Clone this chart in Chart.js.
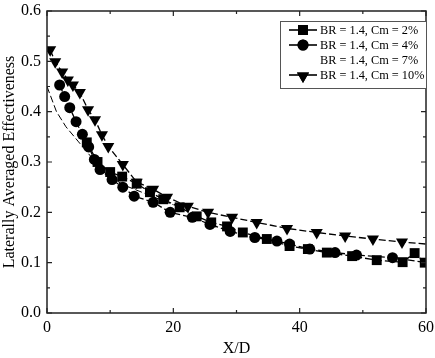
<!DOCTYPE html>
<html>
<head>
<meta charset="utf-8">
<script src="https://cdn.jsdelivr.net/npm/chart.js@4"></script>
<style>
  html, body { margin: 0; padding: 0; background: #fff; }
  #wrap { width: 435px; height: 358px; }
</style>
</head>
<body>
<div id="wrap"><canvas id="chart"></canvas></div>
<script>
// data
var labels = ["BR = 1.4, Cm = 2%", "BR = 1.4, Cm = 4%", "BR = 1.4, Cm = 7%", "BR = 1.4, Cm = 10%"];

var sqX = [6.3, 8, 10, 11.9, 14.2, 16.3, 18.4, 21, 23.7, 26, 28.5, 31, 34.8, 38.4, 41.3, 44.3, 48.3, 52.2, 56.3, 58.2, 59.8];
var sqY = [0.339, 0.300, 0.280, 0.271, 0.257, 0.240, 0.226, 0.210, 0.192, 0.180, 0.172, 0.160, 0.147, 0.133, 0.127, 0.120, 0.113, 0.105, 0.101, 0.119, 0.100];

var ciX = [2, 2.8, 3.6, 4.6, 5.6, 6.6, 7.5, 8.4, 10.3, 12, 13.8, 16.8, 19.5, 23, 25.8, 29, 32.9, 36.4, 38.4, 41.6, 45.6, 49, 54.7, 60];
var ciY = [0.453, 0.430, 0.408, 0.380, 0.355, 0.330, 0.305, 0.285, 0.265, 0.250, 0.232, 0.220, 0.200, 0.190, 0.176, 0.162, 0.150, 0.143, 0.137, 0.127, 0.120, 0.115, 0.110, 0.100];

var c7X = [0, 1.5, 3, 5, 7, 9, 12, 16, 20];
var c7Y = [0.450, 0.400, 0.370, 0.340, 0.310, 0.280, 0.255, 0.235, 0.215];

var trX = [0.5, 1.3, 2.4, 3.3, 4.1, 5.2, 6.5, 7.6, 8.7, 9.7, 12, 14.2, 16.8, 19, 22.3, 25.5, 29.3, 33.2, 38, 42.7, 47.2, 51.6, 56.2, 60];
var trY = [0.523, 0.499, 0.479, 0.463, 0.453, 0.438, 0.404, 0.384, 0.354, 0.331, 0.295, 0.260, 0.246, 0.230, 0.212, 0.200, 0.190, 0.180, 0.168, 0.160, 0.153, 0.147, 0.141, 0.137];

function pts(xs, ys) {
  return xs.map(function (x, i) { return { x: x, y: ys[i] }; });
}

// last point of some series only carries the line to the frame
function rad(r) {
  return function (ctx) { return ctx.raw && ctx.raw.x === 60 ? 0 : r; };
}

var serif = "'Liberation Serif', 'Times New Roman', serif";

function markerRadius(style) {
  return style === 'circle' ? 5.5 : 7;
}

// inward ticks, box frame and the framed legend
var frame = {
  id: 'frame',
  afterDraw: function (chart) {
    var ctx = chart.ctx, a = chart.chartArea;
    var xs = chart.scales.x, ys = chart.scales.y;
    ctx.save();
    ctx.strokeStyle = '#222';
    ctx.lineWidth = 1.5;
    ctx.strokeRect(a.left, a.top, a.right - a.left, a.bottom - a.top);
    ctx.lineWidth = 1.2;
    ctx.beginPath();
    for (var v = 0; v <= 60; v += 10) {
      var px = xs.getPixelForValue(v), len = v % 20 === 0 ? 5 : 3;
      ctx.moveTo(px, a.bottom); ctx.lineTo(px, a.bottom - len);
      ctx.moveTo(px, a.top); ctx.lineTo(px, a.top + len);
    }
    for (var k = 0; k <= 12; k++) {
      var py = ys.getPixelForValue(k * 0.05), l2 = k % 2 === 0 ? 5 : 3;
      ctx.moveTo(a.left, py); ctx.lineTo(a.left + l2, py);
      ctx.moveTo(a.right, py); ctx.lineTo(a.right - l2, py);
    }
    ctx.stroke();

    // legend
    var bx = 280, by = 21, bw = a.right - bx, bh = 67;
    ctx.fillStyle = '#fff';
    ctx.fillRect(bx, by, bw, bh);
    ctx.strokeStyle = '#555';
    ctx.lineWidth = 1;
    ctx.strokeRect(bx + 0.5, by + 0.5, bw, bh);
    var styles = ['rect', 'circle', null, 'triangle'];
    var rows = [30, 45, 60, 75];
    ctx.font = '12.3px ' + serif;
    ctx.textBaseline = 'middle';
    for (var i = 0; i < labels.length; i++) {
      var cy = rows[i];
      if (styles[i]) {
        ctx.strokeStyle = '#000';
        ctx.lineWidth = 1.6;
        ctx.beginPath();
        ctx.moveTo(289, cy); ctx.lineTo(317, cy);
        ctx.stroke();
        ctx.fillStyle = '#000';
        Chart.helpers.drawPoint(ctx, {
          pointStyle: styles[i],
          radius: markerRadius(styles[i]),
          rotation: styles[i] === 'triangle' ? 180 : 0,
          borderWidth: 0
        }, 303, cy + (styles[i] === 'triangle' ? 1 : 0));
        ctx.fill();
      }
      ctx.fillStyle = '#000';
      ctx.fillText(labels[i], 320, cy + 1);
    }
    ctx.restore();
  }
};

var lineBase = {
  showLine: true,
  borderColor: '#000',
  backgroundColor: '#000',
  pointBorderColor: '#000',
  pointBackgroundColor: '#000',
  borderWidth: 1.3,
  borderDash: [7, 3],
  pointBorderWidth: 0,
  tension: 0
};

new Chart(document.getElementById('chart'), {
  type: 'scatter',
  data: {
    datasets: [
      Object.assign({}, lineBase, {
        label: labels[2],
        data: pts(c7X, c7Y),
        pointRadius: 0,
        borderWidth: 1
      }),
      Object.assign({}, lineBase, {
        label: labels[0],
        data: pts(sqX, sqY),
        pointStyle: 'rect',
        pointRadius: rad(7)
      }),
      Object.assign({}, lineBase, {
        label: labels[1],
        data: pts(ciX, ciY),
        pointStyle: 'circle',
        pointRadius: rad(5.5)
      }),
      Object.assign({}, lineBase, {
        label: labels[3],
        data: pts(trX, trY),
        pointStyle: 'triangle',
        pointRotation: 180,
        pointRadius: rad(7)
      })
    ]
  },
  options: {
    responsive: true,
    maintainAspectRatio: false,
    animation: false,
    layout: { padding: { top: 11, right: 9, left: 0, bottom: 0 } },
    plugins: {
      legend: { display: false },
      tooltip: { enabled: false }
    },
    scales: {
      x: {
        type: 'linear',
        min: 0,
        max: 60,
        afterFit: function (s) { s.height = 45; s.paddingLeft = 0; s.paddingRight = 0; },
        grid: { display: false, drawTicks: false },
        border: { display: false },
        ticks: {
          stepSize: 20,
          padding: 5,
          color: '#000',
          maxRotation: 0,
          font: { family: serif, size: 16 }
        },
        title: {
          display: true,
          text: 'X/D',
          color: '#000',
          padding: { top: 0, bottom: 0 },
          font: { family: serif, size: 16 }
        }
      },
      y: {
        type: 'linear',
        min: 0,
        max: 0.6,
        afterFit: function (s) { s.width = 47; s.paddingTop = 0; s.paddingBottom = 0; },
        grid: { display: false, drawTicks: false },
        border: { display: false },
        ticks: {
          stepSize: 0.1,
          padding: 6,
          color: '#000',
          font: { family: serif, size: 16 },
          callback: function (v) { return v.toFixed(1); }
        },
        title: {
          display: true,
          text: 'Laterally Averaged Effectiveness',
          color: '#000',
          padding: 0,
          font: { family: serif, size: 16 }
        }
      }
    }
  },
  plugins: [frame]
});
</script>
</body>
</html>
